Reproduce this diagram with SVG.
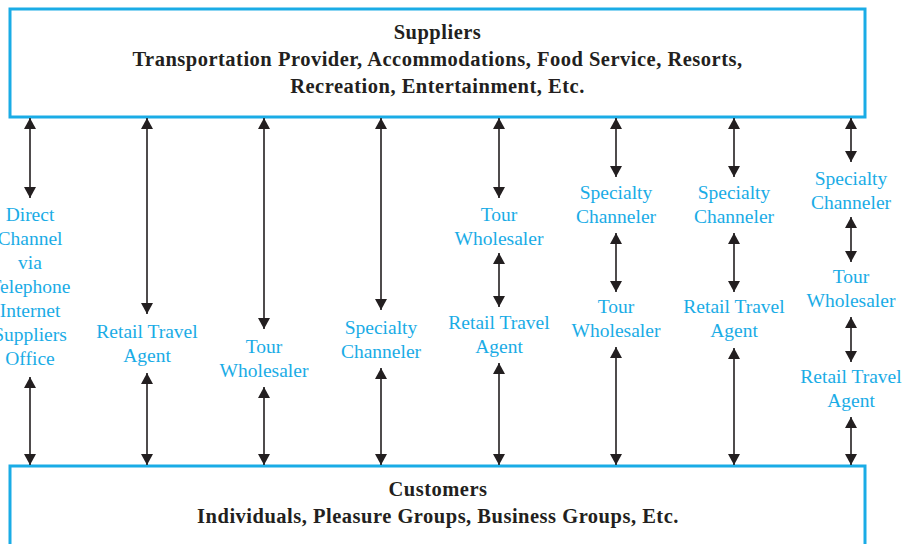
<svg xmlns="http://www.w3.org/2000/svg" width="905" height="544" viewBox="0 0 905 544">
<style>
.box{fill:#fff;stroke:#1aace6;stroke-width:3}
.hd{font-family:"Liberation Serif",serif;font-weight:bold;font-size:20.5px;letter-spacing:0.5px;fill:#231f20;text-anchor:middle}
.lb{font-family:"Liberation Serif",serif;font-size:19.5px;fill:#1aace6;text-anchor:middle}
.ar{stroke:#231f20;stroke-width:1.6;fill:none;marker-start:url(#ah);marker-end:url(#ah)}
</style>
<defs>
<marker id="ah" viewBox="0 0 11 12" refX="11" refY="6" markerWidth="11" markerHeight="12" markerUnits="userSpaceOnUse" orient="auto-start-reverse">
<path d="M0,0 L11,6 L0,12 z" fill="#231f20"/>
</marker>
</defs>
<rect width="905" height="544" fill="#fff"/>
<g id="suppliers">
<rect class="box" x="10" y="9" width="855" height="108"/>
<text class="hd" x="437.5" y="39">Suppliers</text>
<text class="hd" x="437.5" y="66">Transportation Provider, Accommodations, Food Service, Resorts,</text>
<text class="hd" x="437.5" y="93">Recreation, Entertainment, Etc.</text>
</g>
<g id="customers">
<rect class="box" x="10" y="466" width="855" height="90"/>
<text class="hd" x="438" y="496">Customers</text>
<text class="hd" x="438" y="523">Individuals, Pleasure Groups, Business Groups, Etc.</text>
</g>
<g id="direct">
<text class="lb" x="30" y="221">Direct</text>
<text class="lb" x="30" y="245">Channel</text>
<text class="lb" x="30" y="269">via</text>
<text class="lb" x="30" y="293">Telephone</text>
<text class="lb" x="30" y="317">Internet</text>
<text class="lb" x="30" y="341">Suppliers</text>
<text class="lb" x="30" y="365">Office</text>
</g>
<g id="c2-retail">
<text class="lb" x="147" y="338">Retail Travel</text>
<text class="lb" x="147" y="362">Agent</text>
</g>
<g id="c3-tour">
<text class="lb" x="264" y="353">Tour</text>
<text class="lb" x="264" y="377">Wholesaler</text>
</g>
<g id="c4-spec">
<text class="lb" x="381" y="334">Specialty</text>
<text class="lb" x="381" y="358">Channeler</text>
</g>
<g id="c5-tour">
<text class="lb" x="499" y="221">Tour</text>
<text class="lb" x="499" y="245">Wholesaler</text>
</g>
<g id="c5-retail">
<text class="lb" x="499" y="329">Retail Travel</text>
<text class="lb" x="499" y="353">Agent</text>
</g>
<g id="c6-spec">
<text class="lb" x="616" y="199">Specialty</text>
<text class="lb" x="616" y="223">Channeler</text>
</g>
<g id="c6-tour">
<text class="lb" x="616" y="313">Tour</text>
<text class="lb" x="616" y="337">Wholesaler</text>
</g>
<g id="c7-spec">
<text class="lb" x="734" y="199">Specialty</text>
<text class="lb" x="734" y="223">Channeler</text>
</g>
<g id="c7-retail">
<text class="lb" x="734" y="313">Retail Travel</text>
<text class="lb" x="734" y="337">Agent</text>
</g>
<g id="c8-spec">
<text class="lb" x="851" y="185">Specialty</text>
<text class="lb" x="851" y="209">Channeler</text>
</g>
<g id="c8-tour">
<text class="lb" x="851" y="283">Tour</text>
<text class="lb" x="851" y="307">Wholesaler</text>
</g>
<g id="c8-retail">
<text class="lb" x="851" y="383">Retail Travel</text>
<text class="lb" x="851" y="407">Agent</text>
</g>
<g id="connectors">
<line class="ar" x1="30" y1="118" x2="30" y2="198"/>
<line class="ar" x1="30" y1="377" x2="30" y2="465"/>
<line class="ar" x1="147" y1="118" x2="147" y2="314"/>
<line class="ar" x1="147" y1="373" x2="147" y2="465"/>
<line class="ar" x1="264" y1="118" x2="264" y2="329"/>
<line class="ar" x1="264" y1="387" x2="264" y2="465"/>
<line class="ar" x1="381" y1="118" x2="381" y2="310"/>
<line class="ar" x1="381" y1="368" x2="381" y2="465"/>
<line class="ar" x1="499" y1="118" x2="499" y2="198"/>
<line class="ar" x1="499" y1="253" x2="499" y2="307"/>
<line class="ar" x1="499" y1="363" x2="499" y2="465"/>
<line class="ar" x1="616" y1="118" x2="616" y2="177"/>
<line class="ar" x1="616" y1="233" x2="616" y2="292"/>
<line class="ar" x1="616" y1="347" x2="616" y2="465"/>
<line class="ar" x1="734" y1="118" x2="734" y2="177"/>
<line class="ar" x1="734" y1="233" x2="734" y2="292"/>
<line class="ar" x1="734" y1="348" x2="734" y2="465"/>
<line class="ar" x1="851" y1="118" x2="851" y2="162"/>
<line class="ar" x1="851" y1="217" x2="851" y2="262"/>
<line class="ar" x1="851" y1="317" x2="851" y2="362"/>
<line class="ar" x1="851" y1="417" x2="851" y2="465"/>
</g>
</svg>
